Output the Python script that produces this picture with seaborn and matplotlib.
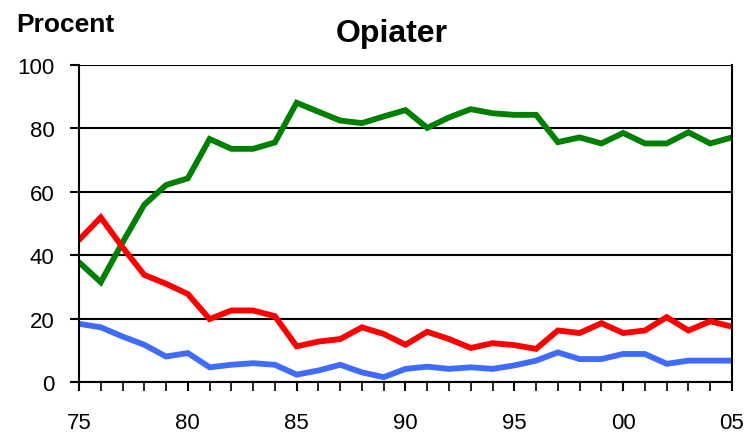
import pandas as pd
import matplotlib.pyplot as plt
import seaborn as sns
from matplotlib.ticker import MultipleLocator

# Years 1975-2005
years = list(range(1975, 2006))
year_labels = ['75', '80', '85', '90', '95', '00', '05']

# Share of opiate cases, percent
green = [37.8, 31.5, 44.0, 55.9, 62.1, 64.2, 76.6, 73.5, 73.5, 75.5, 88.0,
         85.2, 82.4, 81.6, 83.7, 85.7, 80.1, 83.4, 86.0, 84.7, 84.2,
         84.2, 75.6, 77.1, 75.2, 78.5, 75.2, 75.2, 78.7, 75.2, 77.1]
red = [44.8, 51.9, 42.5, 33.8, 31.0, 27.8, 19.9, 22.6, 22.6, 20.8, 11.3,
       12.8, 13.6, 17.3, 15.2, 11.8, 15.9, 13.6, 10.8, 12.3, 11.7,
       10.5, 16.3, 15.5, 18.6, 15.5, 16.3, 20.5, 16.3, 19.2, 17.5]
blue = [18.4, 17.3, 14.4, 11.8, 8.1, 9.2, 4.7, 5.5, 6.0, 5.5, 2.4,
        3.7, 5.5, 3.1, 1.6, 4.2, 4.9, 4.2, 4.7, 4.2, 5.3,
        6.8, 9.4, 7.3, 7.3, 8.9, 8.9, 5.8, 6.8, 6.8, 6.8]

df = pd.DataFrame({
    'year': years * 3,
    'value': green + red + blue,
    'series': ['green'] * len(years) + ['red'] * len(years) + ['blue'] * len(years),
})
colors = {'green': '#008000', 'red': '#ff0000', 'blue': '#3f6bff'}

sns.set_style('white', rc={'text.color': 'black', 'xtick.color': 'black',
                           'ytick.color': 'black', 'axes.labelcolor': 'black'})
plt.rcParams['font.family'] = ['Liberation Sans', 'DejaVu Sans']

fig = plt.figure(figsize=(7.48, 4.35), dpi=100)
ax = fig.add_axes([0.1056, 0.119, 0.873, 0.730])

sns.lineplot(data=df, x='year', y='value', hue='series', palette=colors,
             linewidth=4.2, legend=False, ax=ax, solid_joinstyle='miter')

ax.set_xlim(1975, 2005)
ax.set_ylim(0, 100)
ax.set_xticks(list(range(1975, 2006, 5)))
ax.set_xticklabels(year_labels)
ax.xaxis.set_minor_locator(MultipleLocator(1))
ax.set_yticks(range(0, 101, 20))
ax.tick_params(axis='both', which='major', direction='out', length=6.5,
               width=1.5, color='black', labelsize=16, labelcolor='black')
ax.tick_params(axis='x', which='minor', direction='out', length=6.5,
               width=1.2, color='black', bottom=True)
ax.tick_params(axis='x', which='major', bottom=True, pad=15)
ax.tick_params(axis='y', left=True, pad=11)
ax.grid(axis='y', color='black', linewidth=1.5)
ax.set_axisbelow(True)
for s in ax.spines.values():
    s.set_color('black')
    s.set_linewidth(1.5)
ax.spines['top'].set_visible(False)
ax.set_xlabel('')
ax.set_ylabel('')

fig.text(0.0214, 0.926, 'Procent', fontsize=19, fontweight='bold',
         ha='left', va='baseline')
fig.text(0.5236, 0.9034, 'Opiater', fontsize=23, fontweight='bold',
         ha='center', va='baseline')

fig.savefig('out.png', dpi=100)
